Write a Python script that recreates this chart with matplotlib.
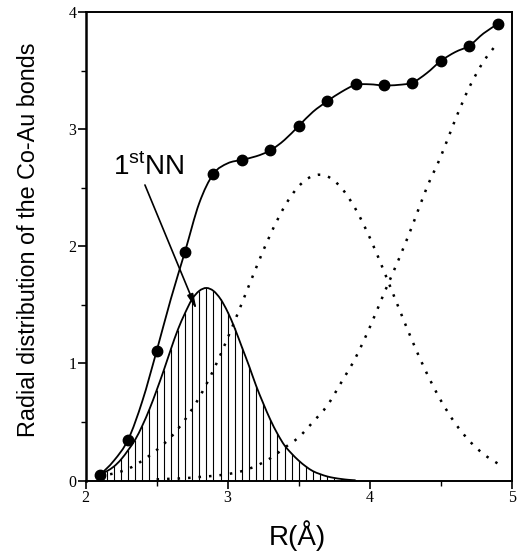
import numpy as np
import matplotlib
matplotlib.use("Agg")
import matplotlib.pyplot as plt
from matplotlib.path import Path
from matplotlib.patches import PathPatch
from matplotlib.ticker import MultipleLocator

# measured points (filled circles)
R_PTS = [2.1, 2.3, 2.5, 2.7, 2.9, 3.1, 3.3, 3.5, 3.7, 3.9, 4.1, 4.3, 4.5, 4.7, 4.9]
Y_PTS = [0.045, 0.35, 1.105, 1.956, 2.62, 2.74, 2.82, 3.03, 3.24, 3.385,
         3.375, 3.40, 3.585, 3.715, 3.90]

# fitted curve through the points (solid line)
R_FIT = np.round(np.arange(2.1, 4.9001, 0.1), 2)
Y_FIT = [0.045, 0.17, 0.35, 0.68, 1.105, 1.55, 1.956, 2.37, 2.62, 2.71,
         2.74, 2.77, 2.82, 2.91, 3.03, 3.15, 3.24, 3.32, 3.38, 3.385,
         3.375, 3.38, 3.40, 3.48, 3.585, 3.66, 3.715, 3.82, 3.90]

# 1st NN component (hatched)
R_NN1 = np.round(np.arange(2.1, 3.9001, 0.05), 2)
Y_NN1 = [0.05, 0.08, 0.12, 0.18, 0.26, 0.35, 0.47, 0.61, 0.77, 0.94,
         1.12, 1.29, 1.43, 1.55, 1.62, 1.645, 1.62, 1.55, 1.44, 1.30,
         1.14, 0.98, 0.81, 0.66, 0.52, 0.40, 0.30, 0.23, 0.17, 0.12,
         0.08, 0.055, 0.035, 0.022, 0.013, 0.006, 0.002]

# 2nd component (dotted)
R_NN2 = np.round(np.arange(2.1, 4.9001, 0.1), 2)
Y_NN2 = [0.04, 0.06, 0.10, 0.17, 0.26, 0.37, 0.52, 0.71, 0.944, 1.218,
         1.515, 1.817, 2.101, 2.341, 2.514, 2.603, 2.599, 2.50, 2.319, 2.074,
         1.787, 1.485, 1.189, 0.918, 0.683, 0.49, 0.339, 0.226, 0.145]

# 3rd component (dotted)
R_NN3 = np.round(np.arange(2.5, 4.9001, 0.1), 2)
Y_NN3 = [0.01, 0.015, 0.02, 0.03, 0.04, 0.055, 0.08, 0.125, 0.19, 0.28,
         0.37, 0.50, 0.64, 0.84, 1.05, 1.31, 1.60, 1.88, 2.18, 2.50,
         2.77, 3.08, 3.36, 3.58, 3.74]

SANS = "Liberation Sans"
SERIF = "Liberation Serif"
plt.rcParams["mathtext.fontset"] = "custom"
plt.rcParams["mathtext.rm"] = SANS


def smooth_path(xs, ys):
    # Catmull-Rom through the given points, drawn as cubic Beziers
    p = np.column_stack([xs, ys]).astype(float)
    ext = np.vstack([p[0], p, p[-1]])
    verts = [p[0]]
    codes = [Path.MOVETO]
    for i in range(1, len(ext) - 2):
        c1 = ext[i] + (ext[i + 1] - ext[i - 1]) / 6
        c2 = ext[i + 1] - (ext[i + 2] - ext[i]) / 6
        verts += [c1, c2, ext[i + 1]]
        codes += [Path.CURVE4] * 3
    return Path(verts, codes)


def smooth_line(ax, xs, ys, **kw):
    ax.add_patch(PathPatch(smooth_path(xs, ys), fill=False, **kw))


fig = plt.figure(figsize=(5.17, 5.55), dpi=100)
ax = fig.add_axes([0.1654, 0.1342, 0.8249, 0.8436])

# hatched first-neighbour peak
ax.vlines(R_NN1, 0, Y_NN1, color="black", lw=0.8)
smooth_line(ax, R_NN1, Y_NN1, edgecolor="black", lw=1.3)

dot_style = (0, (1, 3.2))
smooth_line(ax, R_NN2, Y_NN2, edgecolor="black", lw=1.8, linestyle=dot_style)
smooth_line(ax, R_NN3, Y_NN3, edgecolor="black", lw=1.8, linestyle=dot_style)

smooth_line(ax, R_FIT, Y_FIT, edgecolor="black", lw=1.3)
ax.plot(R_PTS, Y_PTS, "o", color="black", markersize=7.5, zorder=5)

ax.text(2.191, 2.607, r"1$^{\mathrm{st}}$NN", family=SANS, fontsize=20,
        ha="left", va="baseline")
ax.annotate("", xy=(2.782, 1.457), xytext=(2.418, 2.525),
            arrowprops=dict(arrowstyle="-|>,head_length=0.9,head_width=0.18",
                            color="black", lw=1.2, shrinkA=0, shrinkB=0))

ax.set_xlim(2, 5)
ax.set_ylim(0, 4)
ax.xaxis.set_major_locator(MultipleLocator(1))
ax.xaxis.set_minor_locator(MultipleLocator(0.5))
ax.yaxis.set_major_locator(MultipleLocator(1))
ax.yaxis.set_minor_locator(MultipleLocator(0.5))
ax.tick_params(which="major", direction="out", length=5.5, width=1.2,
               labelsize=11.5, pad=1)
ax.tick_params(which="minor", direction="out", length=3.5, width=1.0)
for lab in ax.get_xticklabels() + ax.get_yticklabels():
    lab.set_family(SERIF)

ax.spines["left"].set_linewidth(1.8)
for s in ["top", "right", "bottom"]:
    ax.spines[s].set_linewidth(1.4)

ax.set_xlabel("R(Å)", family=SANS, fontsize=20)
ax.set_ylabel("Radial distribution of the Co-Au bonds", family=SANS,
              fontsize=16.8)
ax.xaxis.set_label_coords(0.4975, -0.084)
ax.yaxis.set_label_coords(-0.107, 0.515)

fig.savefig("out.png", dpi=100)
